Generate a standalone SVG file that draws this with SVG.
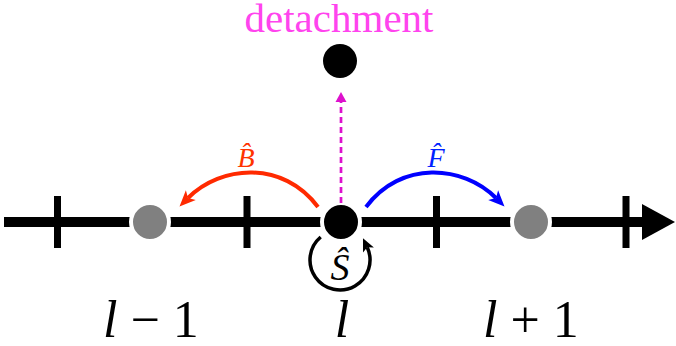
<svg xmlns="http://www.w3.org/2000/svg" width="676" height="346" viewBox="0 0 676 346">
<defs>
<marker id="arrRed" markerUnits="userSpaceOnUse" orient="auto" refX="4" refY="0" markerWidth="20" markerHeight="20" overflow="visible"><path d="M0,-7 L16,0 L0,7 L4,0 Z" fill="#ff2a00"/></marker>
<marker id="arrBlue" markerUnits="userSpaceOnUse" orient="auto" refX="4" refY="0" markerWidth="20" markerHeight="20" overflow="visible"><path d="M0,-7 L16,0 L0,7 L4,0 Z" fill="#0000ff"/></marker>
<marker id="arrBlack" markerUnits="userSpaceOnUse" orient="auto" refX="3" refY="0" markerWidth="20" markerHeight="20" overflow="visible"><path d="M0,-6 L13,0 L0,6 L3,0 Z" fill="#000"/></marker>
<marker id="arrMag" markerUnits="userSpaceOnUse" orient="auto" refX="0" refY="0" markerWidth="20" markerHeight="20" overflow="visible"><path d="M0,-5.5 L10,0 L0,5.5 Z" fill="#dd11cc"/></marker>
</defs>
<g id="axis">
<line x1="4" y1="222" x2="643" y2="222" stroke="#000" stroke-width="10"/>
<polygon points="642,204 675,222 642,240" fill="#000"/>
<g stroke="#000" stroke-width="7">
<line x1="57.5" y1="196" x2="57.5" y2="248"/>
<line x1="247" y1="196" x2="247" y2="248"/>
<line x1="436.5" y1="196" x2="436.5" y2="248"/>
<line x1="626" y1="196" x2="626" y2="248"/>
</g>
</g>
<g id="site-l-minus-1"><circle cx="150" cy="222" r="19" fill="#808080" stroke="#fff" stroke-width="4"/></g>
<g id="site-l"><circle cx="341" cy="222" r="19" fill="#000" stroke="#fff" stroke-width="4"/></g>
<g id="site-l-plus-1"><circle cx="531" cy="222" r="19" fill="#808080" stroke="#fff" stroke-width="4"/></g>
<g id="detached"><circle cx="340" cy="61" r="17" fill="#000"/></g>
<g id="connectors">
<path d="M318,207 C283,160 221,165 188,198" fill="none" stroke="#ff2a00" stroke-width="4" marker-end="url(#arrRed)"/>
<path d="M366,207 C401,160 463,165 496,198" fill="none" stroke="#0000ff" stroke-width="4" marker-end="url(#arrBlue)"/>
<path d="M341,203 L341,102" fill="none" stroke="#dd11cc" stroke-width="2.7" stroke-dasharray="6 4" marker-end="url(#arrMag)"/>
<path d="M320.7,237 A30,30 0 1 0 367.2,247.3" fill="none" stroke="#000" stroke-width="3.5" marker-end="url(#arrBlack)"/>
</g>
<g id="labels">
<text transform="translate(339,32) scale(2)" x="0" y="0" font-family="'Liberation Serif', serif" font-size="20.5" fill="#ff44ee" text-anchor="middle">detachment</text>
<text transform="translate(246,167) scale(2)" x="0" y="0" font-family="'Liberation Serif', serif" font-style="italic" font-size="14" fill="#ff3300" text-anchor="middle">B̂</text>
<text transform="translate(436,167) scale(2)" x="0" y="0" font-family="'Liberation Serif', serif" font-style="italic" font-size="14" fill="#0022ff" text-anchor="middle">F̂</text>
<text transform="translate(340,280) scale(2)" x="0" y="0" font-family="'Liberation Serif', serif" font-style="italic" font-size="19" fill="#000" text-anchor="middle">Ŝ</text>
<text transform="translate(103,337) scale(2.5)" x="0" y="0" font-family="'Liberation Serif', serif" font-size="20.8" fill="#000"><tspan font-style="italic">l</tspan> − 1</text>
<text transform="translate(342,337) scale(2.5)" x="0" y="0" font-family="'Liberation Serif', serif" font-style="italic" font-size="20.8" fill="#000" text-anchor="middle">l</text>
<text transform="translate(483,337) scale(2.5)" x="0" y="0" font-family="'Liberation Serif', serif" font-size="20.8" fill="#000"><tspan font-style="italic">l</tspan> + 1</text>
</g>
</svg>
